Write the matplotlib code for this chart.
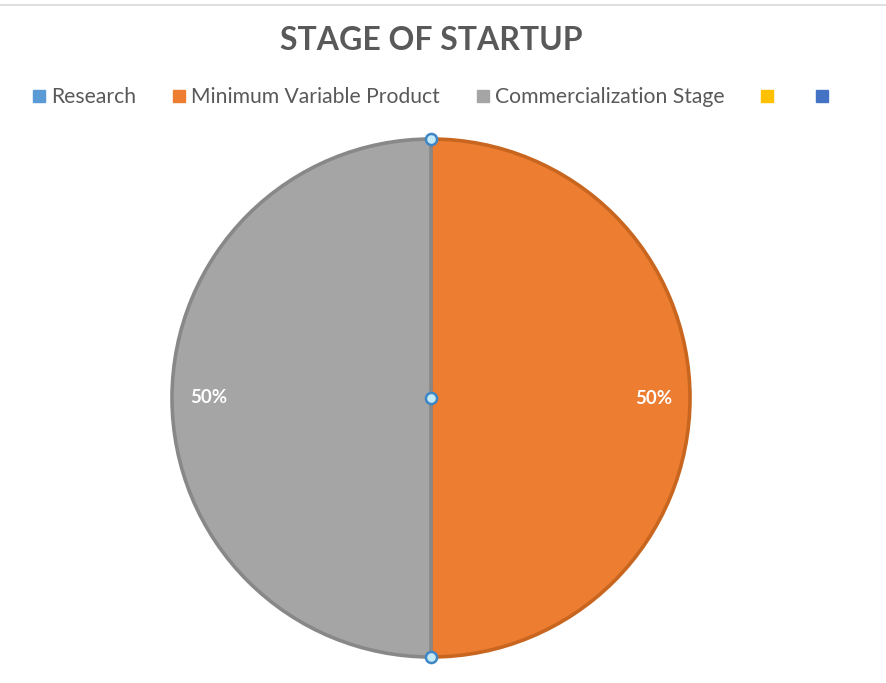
import matplotlib
matplotlib.use("Agg")
import matplotlib.pyplot as plt
from matplotlib.lines import Line2D

# ----- DATA -----
categories = ["Research", "Minimum Variable Product", "Commercialization Stage", "", ""]
values = [0, 1, 1, 0, 0]
colors = ["#5B9BD5", "#ED7D31", "#A5A5A5", "#FFC000", "#4472C4"]
edge_colors = ["#4a7fb0", "#c8661f", "#888888", "#d9a300", "#36599a"]
title = "STAGE OF STARTUP"

plt.rcParams["font.family"] = ["Lato", "DejaVu Sans"]
TEXT_GREY = "#595959"

W, H = 887, 683
fig = plt.figure(figsize=(W / 100, H / 100), dpi=100)

# pie centre (431, 398) px, radius ~259 px
cx, cy, r = 431, 398, 259
pad = 1.05
ax = fig.add_axes([(cx - r * pad) / W, (H - cy - r * pad) / H, 2 * r * pad / W, 2 * r * pad / H])


def pct(p):
    return f"{p:.0f}%" if p > 0 else ""


wedges, texts, autotexts = ax.pie(
    values, colors=colors, startangle=90, counterclock=False,
    autopct=pct, pctdistance=0.86, radius=1.0,
    wedgeprops=dict(linewidth=2.6),
    textprops=dict(color="white", fontsize=13.5, fontweight="bold"),
)
for w, ec in zip(wedges, edge_colors):
    w.set_edgecolor(ec)
    if w.theta1 == w.theta2:
        w.set_visible(False)

ax.set_xlim(-pad, pad)
ax.set_ylim(-pad, pad)
ax.set_aspect("equal")
ax.axis("off")

# selection handles (top, centre, bottom)
ax.plot([0, 0, 0], [1, 0, -1], "o", ms=8, mfc="#c5eaf7", mec="#3f86c4",
        mew=1.8, zorder=5, clip_on=False)

fig.text(cx / W, 1 - 40 / H, title, ha="center", va="center",
         fontsize=23, fontweight="bold", color=TEXT_GREY)

handles = [Line2D([], [], marker="s", ls="none", ms=9, mfc=c, mec=c) for c in colors]
fig.legend(handles, categories, loc="center", bbox_to_anchor=(434 / W, 1 - 97 / H),
           ncol=5, frameon=False, fontsize=15.2, handlelength=0.55, handletextpad=0.3,
           columnspacing=1.75, labelcolor=TEXT_GREY)

# frame line at top
fig.add_artist(Line2D([0, 1], [1 - 5 / H, 1 - 5 / H], color="#d9d9d9", lw=1.2))

fig.savefig("out.png", dpi=100, facecolor="white")
